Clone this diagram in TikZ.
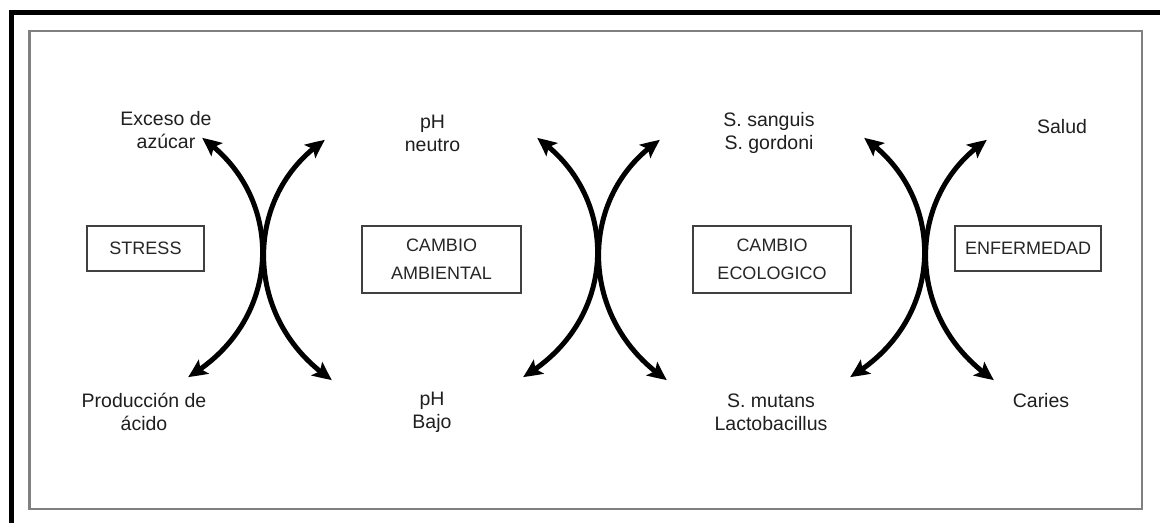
\documentclass[tikz,border=0pt]{standalone}
\usepackage{fontspec}
\setmainfont{Liberation Sans}
\usetikzlibrary{arrows.meta,bending}
\begin{document}
\begin{tikzpicture}[x=1pt,y=-1pt,
  lbl/.style={align=center,font=\fontsize{19.5}{23}\selectfont,text=black!88,inner sep=0pt},
  boxx/.style={draw=black!75,line width=1.5pt,align=center,font=\fontsize{18}{28}\selectfont,text=black!85,inner sep=0pt},
  tipx/.tip={Stealth[length=19pt,width=17pt,inset=4pt,bend]},
  arc/.style={line width=5pt,black,tipx-tipx}]
\fill[white] (0,0) rectangle (1160,523);
\useasboundingbox (0,0) rectangle (1160,523);
% frames
\draw[line width=5pt] (11,523) -- (11,12) -- (1160,12);
\draw[line width=2.2pt,black!50] (29.5,31) rectangle (1142,509);
% boxes
\node[boxx,minimum width=117pt,minimum height=45pt] (stress) at (145.5,248.5) {STRESS};
\node[boxx,minimum width=159pt,minimum height=67pt] (amb) at (441.5,259.5) {CAMBIO\\AMBIENTAL};
\node[boxx,minimum width=158pt,minimum height=67pt] (eco) at (772,259.5) {CAMBIO\\ECOLOGICO};
\node[boxx,minimum width=146pt,minimum height=45pt] (enf) at (1028,248.5) {ENFERMEDAD};
% labels
\node[lbl] (exc) at (166,130) {Exceso de\\azúcar};
\node[lbl] (prod) at (144,412) {Producción de\\ácido};
\node[lbl] (phn) at (432.5,133) {pH\\neutro};
\node[lbl] (phb) at (432,412) {pH\\Bajo};
\node[lbl] (ss) at (769,133) {S. sanguis\\S. gordoni};
\node[lbl] (sm) at (771,412) {S. mutans\\Lactobacillus};
\node[lbl] (sal) at (1062,127) {Salud};
\node[lbl] (car) at (1041,401) {Caries};
% arrows
\foreach \i/\c in {1/263,2/598,3/925} {
  \coordinate (tl\i) at (\c-61,138);
  \coordinate (bl\i) at (\c-75,377);
  \coordinate (tr\i) at (\c+62,140);
  \coordinate (br\i) at (\c+69,380);
  \draw[arc] (tl\i) .. controls (\c+22,195) and (\c+22,320) .. (bl\i);
  \draw[arc] (tr\i) .. controls (\c-21,195) and (\c-21,320) .. (br\i);
}
\end{tikzpicture}
\end{document}
